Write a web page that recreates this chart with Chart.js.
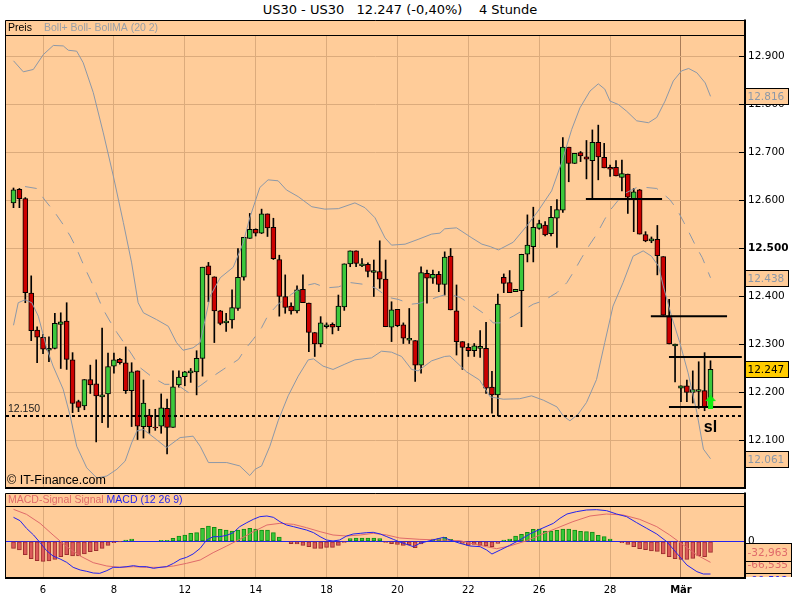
<!DOCTYPE html>
<html>
<head>
<meta charset="utf-8">
<script src="https://cdn.jsdelivr.net/npm/chart.js@4.4.1/dist/chart.umd.min.js"></script>
<style>
    html, body { margin: 0; padding: 0; background: #fff; width: 800px; height: 600px; overflow: hidden; }
    #titel { position: absolute; left: 0; top: 2px; width: 800px; text-align: center; font: 13px "DejaVu Sans"; color: #000; white-space: pre; }
    #kurs { position: absolute; left: 0; top: 0; width: 800px; height: 490px; }
    #macd { position: absolute; left: 0; top: 490px; width: 800px; height: 110px; }
</style>
</head>
<body>
<div id="titel">US30 - US30   12.247 (-0,40%)    4 Stunde</div>
<div id="kurs"><canvas id="kursChart"></canvas></div>
<div id="macd"><canvas id="macdChart"></canvas></div>
<script>
(() => {

    // 4-Stunden-Kerzen, Index 0..118
    const eroeffnung = [12594,12622,12603,12406,12329,12314,12289,12291,12341,12348,
        12267,12180,12171,12226,12217,12192,12196,12254,12268,12261,
        12203,12244,12128,12152,12127,12129,12166,12126,12215,12232,
        12242,12242,12270,12463,12440,12369,12346,12350,12374,12439,
        12520,12539,12531,12571,12543,12476,12399,12379,12369,12414,
        12385,12324,12300,12338,12341,12336,12377,12467,12494,12465,
        12466,12451,12451,12435,12335,12372,12340,12310,12307,12256,
        12447,12437,12445,12424,12483,12369,12305,12293,12286,12293,
        12291,12210,12194,12439,12428,12409,12411,12487,12503,12541,
        12548,12530,12562,12579,12710,12676,12699,12690,12682,12720,
        12689,12668,12668,12647,12654,12603,12621,12528,12517,12518,
        12482,12357,12298,12208,12213,12199,12203,12203,12169];
    const hoch = [12625,12624,12605,12442,12336,12320,12315,12364,12365,12386,
        12282,12183,12226,12256,12267,12333,12281,12281,12270,12294,
        12261,12244,12225,12164,12164,12196,12185,12244,12244,12243,
        12249,12286,12460,12470,12440,12370,12364,12413,12499,12522,
        12572,12540,12581,12571,12562,12485,12444,12386,12421,12444,
        12385,12324,12357,12344,12344,12402,12467,12494,12494,12478,
        12469,12475,12515,12475,12388,12372,12344,12374,12307,12461,
        12454,12454,12451,12492,12499,12423,12305,12301,12301,12328,
        12345,12243,12404,12446,12453,12414,12487,12569,12585,12558,
        12555,12587,12601,12730,12710,12697,12701,12724,12746,12756,
        12718,12673,12682,12683,12654,12624,12622,12534,12523,12547,
        12482,12393,12300,12213,12225,12244,12263,12282,12265];
    const tief = [12584,12584,12386,12307,12261,12280,12263,12290,12249,12247,
        12157,12159,12163,12197,12096,12136,12126,12239,12258,12197,
        12128,12101,12104,12114,12120,12114,12071,12126,12210,12213,
        12220,12194,12233,12388,12303,12340,12326,12333,12370,12433,
        12520,12525,12530,12524,12476,12358,12364,12362,12365,12386,
        12284,12274,12294,12333,12321,12328,12370,12461,12461,12461,
        12440,12399,12416,12336,12305,12336,12301,12301,12222,12239,
        12385,12426,12409,12402,12371,12277,12247,12274,12274,12272,
        12197,12156,12150,12407,12407,12409,12336,12471,12471,12539,
        12525,12525,12501,12574,12638,12676,12680,12644,12603,12642,
        12667,12649,12650,12619,12572,12534,12529,12513,12511,12444,
        12360,12300,12221,12180,12180,12177,12166,12161,12169];
    const schluss = [12621,12603,12407,12328,12314,12289,12289,12343,12346,12268,
        12176,12168,12226,12215,12192,12192,12253,12267,12261,12203,
        12242,12129,12177,12128,12125,12167,12126,12211,12231,12242,
        12242,12270,12460,12444,12369,12343,12346,12376,12439,12522,
        12539,12531,12571,12542,12478,12399,12376,12369,12413,12386,
        12324,12300,12344,12338,12335,12379,12467,12494,12468,12465,
        12451,12451,12435,12336,12371,12338,12312,12310,12256,12449,
        12437,12445,12424,12481,12371,12305,12293,12286,12296,12293,
        12208,12194,12383,12426,12407,12414,12487,12506,12543,12551,
        12527,12564,12580,12710,12676,12697,12692,12685,12720,12690,
        12667,12664,12650,12655,12606,12617,12529,12515,12517,12484,
        12360,12300,12298,12213,12199,12205,12203,12169,12247];

    // Bollinger (20 2): [Kerzenindex, Wert]
    const bollOben = [[0,12890],[1.66,12867],[3.36,12872],[5.05,12903],[6.74,12922],[8.43,12921],[9.28,12912],[10.7,12910],[11.8,12886],[13.5,12824],
        [15.2,12740],[16.9,12650],[18.6,12553],[20.0,12469],[21.1,12386],[22.0,12365],[24.2,12351],[26.2,12337],[27.6,12303],[28.7,12287],
        [30.4,12292],[31.6,12303],[33.3,12400],[35.0,12438],[37.2,12460],[38.9,12511],[40.0,12563],[41.7,12626],[43.1,12642],[44.8,12640],
        [46.2,12621],[48.2,12607],[50.5,12586],[52.7,12581],[55.0,12582],[57.8,12594],[59.5,12584],[61.2,12563],[62.9,12521],[64.0,12506],
        [66.3,12508],[68.5,12518],[70.8,12529],[72.2,12531],[73.0,12540],[75.0,12542],[77.6,12521],[79.3,12508],[80.7,12503],[82.1,12496],
        [84.6,12512],[86.9,12546],[88.8,12577],[91.1,12619],[92.8,12678],[94.5,12747],[95.9,12792],[97.6,12827],[99.0,12842],[100.1,12831],
        [101.0,12806],[102.4,12799],[103.8,12785],[105.5,12765],[107.5,12761],[108.9,12772],[110.3,12806],[111.7,12848],[113.1,12869],[114.3,12874],
        [115.7,12865],[117.1,12844],[118,12816]];
    const bollUnten = [[0,12339],[0.8,12386],[1.95,12392],[3.1,12386],[4.2,12358],[5.6,12292],[6.7,12254],[8.4,12206],[9.6,12150],[10.7,12087],
        [12.4,12042],[14.1,12021],[15.8,12025],[17.5,12039],[18.9,12056],[20.0,12094],[20.9,12119],[22.0,12122],[24.2,12101],[25.9,12084],
        [28.2,12105],[30.4,12108],[31.6,12087],[33.0,12053],[36.1,12053],[38.3,12046],[40.0,12026],[40.9,12039],[42.0,12046],[43.4,12087],
        [44.8,12140],[46.5,12192],[48.2,12233],[49.9,12267],[50.8,12269],[52.4,12254],[54.1,12247],[56.1,12258],[57.8,12267],[60.6,12271],
        [62.3,12285],[64.0,12283],[65.7,12274],[67.4,12247],[68.5,12244],[70.8,12265],[73.0,12274],[73.9,12275],[76.7,12242],[78.9,12225],
        [80.7,12190],[82.9,12185],[85.7,12186],[87.7,12192],[89.7,12183],[92.0,12169],[93.1,12150],[94.2,12140],[95.6,12154],[97.0,12178],
        [98.7,12226],[100.1,12303],[101.5,12379],[103.2,12428],[104.9,12483],[106.6,12494],[108.0,12483],[109.2,12462],[110.0,12421],[111.4,12358],
        [112.8,12303],[114.2,12240],[115.7,12157],[116.8,12081],[118,12061]];
    const bollMitte = [[1.95,12628],[3.9,12624],[5.3,12600],[7.0,12574],[8.4,12549],[9.6,12525],[10.6,12501],[11.5,12475],[12.4,12450],[13.4,12424],
        [14.2,12400],[15.1,12374],[16.2,12350],[17.5,12324],[18.9,12299],[20.2,12275],[21.4,12251],[23.6,12230],[25.6,12216],[27.6,12216],
        [29.6,12199],[31.6,12213],[33.8,12233],[35.5,12247],[38.1,12268],[39.2,12289],[40.6,12310],[42.0,12334],[43.1,12360],[44.8,12383],
        [47.1,12404],[49.1,12421],[51.0,12426],[53.0,12417],[55.0,12419],[57.0,12428],[59.5,12424],[61.2,12417],[63.5,12397],[65.1,12393],
        [67.4,12383],[68.8,12385],[71.6,12397],[73.6,12405],[75.6,12397],[77.6,12381],[79.8,12362],[81.2,12344],[82.4,12344],[84.6,12358],
        [88.0,12383],[89.7,12390],[92.0,12407],[93.7,12428],[95.1,12456],[96.2,12480],[97.6,12508],[98.6,12526],[100.1,12560],[100.9,12577],
        [103.2,12612],[105.5,12626],[107.2,12626],[108.9,12624],[111.1,12601],[112.3,12581],[113.5,12553],[114.5,12529],[115.5,12504],[116.6,12480],
        [118,12438]];

    // MACD (12 26 9)
    const macdHisto = [-21,-26,-40,-52,-58,-60,-59,-54,-46,-40,
        -44,-44,-38,-31,-28,-21,-12,-4,-1,4,
        7,0,0,0,0,3,3,9,16,19,
        24,26,39,46,42,36,34,31,34,37,
        39,37,34,34,26,13,0,-7,-8,-12,
        -16,-21,-21,-18,-18,-12,-3,8,10,10,
        10,10,8,-3,-7,-9,-12,-11,-19,-8,
        0,7,8,12,6,2,-6,-12,-9,-12,
        -14,-16,-6,4,7,16,21,27,36,37,
        31,31,33,37,37,34,30,29,28,18,
        14,7,0,-4,-9,-16,-22,-25,-29,-30,
        -38,-46,-52,-54,-54,-51,-44,-46,-33];
    const macdLinie = [[0,72],[1.1,62],[2.2,39],[3.4,19],[4.5,-4],[5.6,-28],[6.7,-44],[7.9,-53],[9.0,-63],[10.1,-78],
        [11.3,-86],[12.4,-90],[13.5,-95],[14.6,-96],[15.8,-88],[16.9,-78],[18.0,-78],[19.2,-76],[20.3,-73],[21.4,-76],
        [22.5,-76],[23.7,-81],[24.8,-78],[25.9,-76],[27.1,-66],[28.2,-54],[29.3,-48],[30.4,-38],[31.6,-21],[32.7,4],
        [33.8,14],[34.9,14],[36.1,18],[37.2,26],[38.3,44],[39.5,56],[40.6,66],[41.7,74],[42.9,76],[44.0,72],
        [45.1,59],[46.2,49],[47.4,44],[48.5,39],[49.6,34],[50.8,26],[51.9,14],[53.0,4],[54.1,1],[55.2,4],
        [56.4,16],[57.5,22],[58.7,24],[59.8,26],[60.9,27],[62.1,22],[63.2,14],[64.3,6],[65.4,-2],[67.7,-16],
        [68.8,-6],[70.5,2],[72.8,12],[73.9,4],[75.6,-6],[77.3,-14],[79.0,-16],[80.1,-26],[81.0,-38],[82.4,-26],
        [84.0,-12],[85.7,4],[87.4,22],[89.1,36],[91.4,54],[92.5,69],[93.7,82],[95.3,89],[97.0,94],[98.7,95],
        [100.4,92],[102.1,82],[103.8,74],[105.5,56],[107.2,39],[108.9,22],[110.6,-1],[112.3,-36],[114.0,-71],[115.7,-91],
        [116.8,-98],[118,-98]];
    const signalLinie = [[0,96],[2.2,81],[4.5,54],[6.7,19],[9.0,-16],[11.3,-44],[13.5,-64],[15.8,-74],[18.0,-78],[20.3,-76],
        [22.5,-78],[24.8,-78],[27.1,-74],[29.3,-66],[31.6,-56],[33.8,-34],[36.1,-14],[38.3,6],[40.6,29],[42.9,49],
        [45.1,54],[47.4,51],[49.6,41],[51.9,29],[54.1,19],[56.4,16],[58.7,19],[60.9,24],[63.2,19],[65.4,10],
        [68.8,6],[72.2,4],[75.6,2],[77.9,-8],[80.1,-16],[81.8,-22],[84.0,-14],[86.9,2],[89.1,19],[91.9,39],
        [94.7,59],[97.6,76],[100.4,82],[103.2,79],[106.0,66],[108.9,44],[111.1,19],[113.4,-11],[115.7,-41],[118,-63]];

    // Achse
    const tagPositionen = [5, 17, 29, 41, 53, 65, 77, 89, 101, 113];
    const tagBeschriftung = ['6', '8', '12', '14', '18', '20', '22', '26', '28', 'Mär'];

    // Markierungen im Kurschart
    const linienNiveau = [12602, 12358, 12273, 12169];
    const linienVon = [96.9, 107.9, 110.97, 110.97];
    const linienBis = [109.8, 120.8, 123.3, 123.3];
    const stopNiveau = 12150;
    const pfeilPunkt = [118, 12179];
    const slPunkt = [118, 12117];
    const bandMarken = [12816, 12438, 12061];
    const letzterKurs = 12247;
    // Wertfelder rechts im MACD (untereinander gestapelt)
    const macdMarkenWert = [-116, -66.535, -32.963];
    const macdMarkenText = ['-99,512', '-66,535', '-32,963'];

    const X_MIN = -1.27, X_MAX = 123.84;
    const PFIRSICH = '#ffcc99';
    const GITTER = '#dcab7c';
    const GITTER_MONAT = '#a97c58';
    const BANDFARBE = '#8c98a8';
    const GRUEN = '#3cc83c';
    const ROT = '#cc0000';
    const MAERZ = tagPositionen[tagBeschriftung.indexOf('Mär')];

    const paare = (liste) => liste.map(p => ({ x: p[0], y: p[1] }));
    const preisText = (v) => (v / 1000).toFixed(3);

    function pfeilBild() {
        const c = document.createElement('canvas');
        c.width = 11; c.height = 14;
        const g = c.getContext('2d');
        g.fillStyle = '#11ee11';
        g.beginPath();
        g.moveTo(5.5, 0); g.lineTo(11, 6); g.lineTo(8, 6); g.lineTo(8, 14);
        g.lineTo(3, 14); g.lineTo(3, 6); g.lineTo(0, 6);
        g.closePath();
        g.fill();
        return c;
    }

    function xAchse(mitText) {
        return {
            type: 'linear',
            min: X_MIN,
            max: X_MAX,
            offset: false,
            afterBuildTicks: (s) => { s.ticks = tagPositionen.map(v => ({ value: v })); },
            afterFit: mitText ? (s) => { s.height = 22; } : (s) => { s.height = 0; },
            grid: {
                offset: false,
                drawTicks: false,
                color: (ctx) => (ctx.tick && ctx.tick.value === MAERZ) ? GITTER_MONAT : GITTER
            },
            border: { display: false },
            ticks: {
                display: mitText,
                autoSkip: false,
                maxRotation: 0,
                padding: 6,
                color: '#000',
                callback: (v, i) => tagBeschriftung[i],
                font: (ctx) => ({
                    family: 'DejaVu Sans',
                    size: 10,
                    weight: (ctx.tick && ctx.tick.value === MAERZ) ? 'bold' : 'normal'
                })
            }
        };
    }

    function box(c, x, y, b, h, fuellung, text, textFarbe) {
        c.fillStyle = fuellung;
        c.fillRect(x, y, b, h);
        c.strokeStyle = '#000';
        c.lineWidth = 1;
        c.strokeRect(x + 0.5, y + 0.5, b - 1, h - 1);
        c.fillStyle = textFarbe;
        c.textAlign = 'left';
        c.textBaseline = 'middle';
        c.fillText(text, x + 2.5, y + h / 2 + 0.5);
    }

    const kursRahmen = {
        id: 'kursRahmen',
        beforeDraw(chart) {
            const c = chart.ctx;
            const a = chart.chartArea;
            c.save();
            c.fillStyle = PFIRSICH;
            c.fillRect(5, 20, a.right - 5, a.bottom - 20);
            c.restore();
        },
        afterDraw(chart) {
            const c = chart.ctx;
            const a = chart.chartArea;
            const ys = chart.scales.y;
            const xs = chart.scales.x;
            c.save();

            c.strokeStyle = '#000';
            c.lineWidth = 1;
            c.beginPath();
            c.moveTo(5.5, a.bottom); c.lineTo(5.5, 20.5); c.lineTo(a.right, 20.5);
            c.moveTo(5, 35.5); c.lineTo(a.right, 35.5);
            c.stroke();
            c.lineWidth = 2;
            c.beginPath();
            c.moveTo(5, a.bottom); c.lineTo(a.right + 1, a.bottom);
            c.moveTo(a.right, 19.5); c.lineTo(a.right, a.bottom + 1);
            c.stroke();

            // Preisachse: Striche und Beschriftung aus den Skalen-Ticks
            c.lineWidth = 1;
            c.textBaseline = 'middle';
            c.textAlign = 'left';
            c.fillStyle = '#000';
            ys.ticks.forEach(t => {
                const py = Math.round(ys.getPixelForValue(t.value)) + 0.5;
                c.beginPath(); c.moveTo(a.right - 6, py); c.lineTo(a.right, py); c.stroke();
                c.font = (t.value === 12500 ? 'bold ' : '') + '10.5px "DejaVu Sans"';
                c.fillText(preisText(t.value), a.right + 3, py);
            });

            c.font = '10.5px "Liberation Sans"';
            c.fillStyle = '#000';
            c.fillText('Preis', 8, 28.5);
            c.fillStyle = '#9aa0a8';
            c.fillText('Boll+ Boll- BollMA (20 2)', 44, 28.5);

            c.fillStyle = '#222';
            c.fillText(preisText(stopNiveau), 8, ys.getPixelForValue(stopNiveau) - 7);

            c.fillStyle = '#000';
            c.font = '12.5px "Liberation Sans"';
            c.fillText('© IT-Finance.com', 7, 481);

            c.font = 'bold 16px "Liberation Sans"';
            c.textAlign = 'center';
            c.textBaseline = 'alphabetic';
            c.fillText('sl', xs.getPixelForValue(slPunkt[0]), ys.getPixelForValue(slPunkt[1]));

            c.font = '10.5px "DejaVu Sans"';
            bandMarken.forEach(v => {
                const py = Math.round(ys.getPixelForValue(v));
                box(c, a.right, py - 8, 44, 17, PFIRSICH, preisText(v), BANDFARBE);
            });
            const pk = Math.round(ys.getPixelForValue(letzterKurs));
            box(c, a.right, pk - 8, 44, 17, '#ffcc00', preisText(letzterKurs), '#000');

            c.restore();
        }
    };

    const macdRahmen = {
        id: 'macdRahmen',
        beforeDraw(chart) {
            const c = chart.ctx;
            const a = chart.chartArea;
            c.save();
            c.fillStyle = PFIRSICH;
            c.fillRect(5, 3, a.right - 5, a.bottom - 3);
            c.restore();
        },
        afterDraw(chart) {
            const c = chart.ctx;
            const a = chart.chartArea;
            const ys = chart.scales.y;
            c.save();

            c.strokeStyle = '#000';
            c.lineWidth = 1;
            c.beginPath();
            c.moveTo(5.5, a.bottom); c.lineTo(5.5, 3.5); c.lineTo(a.right, 3.5);
            c.moveTo(5, 16.5); c.lineTo(a.right, 16.5);
            c.stroke();
            c.lineWidth = 2;
            c.beginPath();
            c.moveTo(5, a.bottom); c.lineTo(a.right + 1, a.bottom);
            c.moveTo(a.right, 2.5); c.lineTo(a.right, a.bottom + 1);
            c.stroke();

            c.font = '10.5px "Liberation Sans"';
            c.textBaseline = 'middle';
            c.textAlign = 'left';
            const teil1 = 'MACD-Signal Signal ';
            c.fillStyle = '#e06a6a';
            c.fillText(teil1, 8, 10);
            c.fillStyle = '#2323ee';
            c.fillText('MACD (12 26 9)', 8 + c.measureText(teil1).width, 10);

            c.beginPath();
            c.rect(a.right, 0, chart.width - a.right, a.bottom - 1);
            c.clip();
            c.font = '10.5px "DejaVu Sans"';
            const farben = ['#2323ee', '#e06a6a', '#e06a6a'];
            macdMarkenWert.forEach((v, i) => {
                const py = Math.round(ys.getPixelForValue(v));
                box(c, a.right, py - 9, 47, 19, PFIRSICH, macdMarkenText[i], farben[i]);
            });
            c.restore();
        }
    };

    function zeichneKurs() {
        const idx = schluss.map((v, i) => i);
        const koerper = idx.map(i => {
            let o = eroeffnung[i], s = schluss[i];
            if (Math.abs(o - s) < 2) { o = s - 2; s = s + 2; }
            return { x: i, y: [o, s] };
        });

        const niveauDatensaetze = linienNiveau.map((v, k) => ({
            type: 'line',
            data: [{ x: linienVon[k], y: v }, { x: linienBis[k], y: v }],
            borderColor: '#000',
            borderWidth: 2,
            pointRadius: 0,
            order: 1
        }));

        new Chart(document.getElementById('kursChart'), {
            type: 'bar',
            data: {
                datasets: [
                    {
                        data: idx.map(i => ({ x: i, y: [tief[i], hoch[i]] })),
                        backgroundColor: '#000',
                        barThickness: 1,
                        grouped: false,
                        order: 6
                    },
                    {
                        data: koerper,
                        backgroundColor: idx.map(i => schluss[i] >= eroeffnung[i] ? GRUEN : ROT),
                        borderColor: '#000',
                        borderWidth: 1,
                        borderSkipped: false,
                        barThickness: 5,
                        grouped: false,
                        order: 5
                    },
                    {
                        type: 'line',
                        data: paare(bollOben),
                        borderColor: BANDFARBE,
                        borderWidth: 1,
                        pointRadius: 0,
                        order: 3
                    },
                    {
                        type: 'line',
                        data: paare(bollUnten),
                        borderColor: BANDFARBE,
                        borderWidth: 1,
                        pointRadius: 0,
                        order: 3
                    },
                    {
                        type: 'line',
                        data: paare(bollMitte),
                        borderColor: BANDFARBE,
                        borderWidth: 1,
                        borderDash: [12, 10],
                        pointRadius: 0,
                        order: 3
                    },
                    {
                        type: 'line',
                        data: [{ x: X_MIN, y: stopNiveau }, { x: X_MAX, y: stopNiveau }],
                        borderColor: '#000',
                        borderWidth: 2,
                        borderDash: [3, 3],
                        pointRadius: 0,
                        order: 2
                    },
                    ...niveauDatensaetze,
                    {
                        type: 'line',
                        data: [{ x: pfeilPunkt[0], y: pfeilPunkt[1] }],
                        showLine: false,
                        pointStyle: pfeilBild(),
                        pointRadius: 7,
                        order: 0
                    }
                ]
            },
            options: {
                responsive: true,
                maintainAspectRatio: false,
                animation: false,
                events: [],
                layout: { autoPadding: false, padding: { left: 6, top: 36, right: 0, bottom: 2 } },
                plugins: { legend: { display: false }, tooltip: { enabled: false } },
                scales: {
                    x: xAchse(false),
                    y: {
                        type: 'linear',
                        position: 'right',
                        min: 12000,
                        max: 12941.67,
                        afterBuildTicks: (s) => { s.ticks = s.ticks.filter(t => t.value > 12000 && t.value < 12941); },
                        afterFit: (s) => { s.width = 55; },
                        grid: { color: GITTER, drawTicks: false },
                        border: { display: false },
                        ticks: { stepSize: 100, includeBounds: false, display: false }
                    }
                }
            },
            plugins: [kursRahmen]
        });
    }

    function zeichneMacd() {
        const histo = macdHisto.map((v, i) => ({ x: i, y: v === 0 ? null : v }));

        new Chart(document.getElementById('macdChart'), {
            type: 'bar',
            data: {
                datasets: [
                    {
                        data: histo,
                        backgroundColor: macdHisto.map(v => v >= 0 ? '#38c838' : '#dc5a5a'),
                        borderColor: macdHisto.map(v => v >= 0 ? '#138a13' : '#9c2e2e'),
                        borderWidth: 1,
                        borderSkipped: false,
                        barThickness: 4,
                        grouped: false,
                        order: 3
                    },
                    {
                        type: 'line',
                        data: paare(signalLinie),
                        borderColor: '#e06a6a',
                        borderWidth: 1,
                        pointRadius: 0,
                        order: 2
                    },
                    {
                        type: 'line',
                        data: paare(macdLinie),
                        borderColor: '#2323ee',
                        borderWidth: 1,
                        pointRadius: 0,
                        order: 1
                    }
                ]
            },
            options: {
                responsive: true,
                maintainAspectRatio: false,
                animation: false,
                events: [],
                layout: { autoPadding: false, padding: { left: 6, top: 17, right: 0, bottom: 0 } },
                plugins: { legend: { display: false }, tooltip: { enabled: false } },
                scales: {
                    x: xAchse(true),
                    y: {
                        type: 'linear',
                        position: 'right',
                        min: -110,
                        max: 103,
                        z: 1,
                        afterBuildTicks: (s) => { s.ticks = [{ value: 0 }]; },
                        afterFit: (s) => { s.width = 55; },
                        grid: { color: '#2323ee', drawTicks: false },
                        border: { display: false },
                        ticks: {
                            padding: 3,
                            color: '#000',
                            callback: () => '0',
                            font: { family: 'DejaVu Sans', size: 10.5 }
                        }
                    }
                }
            },
            plugins: [macdRahmen]
        });
    }

    zeichneKurs();
    zeichneMacd();

})();
</script>
</body>
</html>
